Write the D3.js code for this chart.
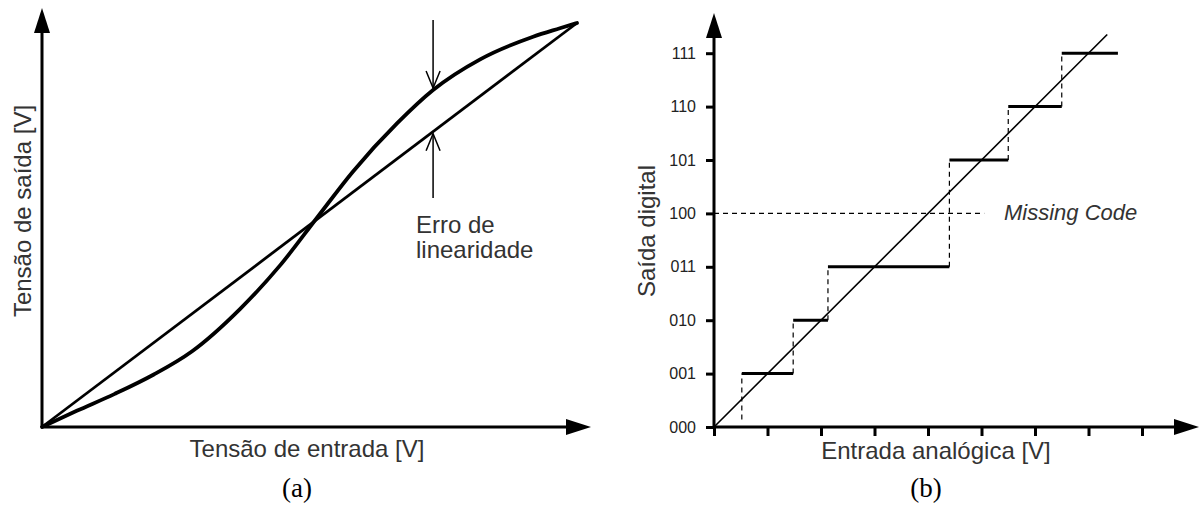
<!DOCTYPE html>
<html>
<head>
<meta charset="utf-8">
<script src="https://cdn.jsdelivr.net/npm/d3@7"></script>
<style>
    body { margin: 0; background: #fff; }
    svg text { font-family: "Liberation Sans", Arial, sans-serif; fill: #333; }
    svg text.caption { font-family: "Liberation Serif", "Times New Roman", serif; fill: #000; }
</style>
</head>
<body>
<svg id="chart" width="1202" height="506"></svg>
<script>
/*
 *  Panel (a): transfer curve vs. ideal straight line (normalised units)
 */
const curveX = [0, 0.065, 0.136, 0.209, 0.280, 0.370, 0.445, 0.514, 0.581, 0.664, 0.731, 0.819, 0.918, 0.968, 1];
const curveY = [0, 0.040, 0.082, 0.130, 0.187, 0.292, 0.400, 0.518, 0.632, 0.752, 0.834, 0.910, 0.966, 0.987, 1];
const idealX = [0, 1];
const idealY = [0, 1];
const errorX = 0.731;

/*
 *  Panel (b): 3-bit converter with a missing code
 */
const codeLabels = ["000", "001", "010", "011", "100", "101", "110", "111"];
const stepLevel = [1, 2, 3, 5, 6, 7];
const stepStart = [0.52, 1.48, 2.13, 4.4, 5.5, 6.5];
const stepEnd = [1.48, 2.13, 4.4, 5.5, 6.5, 7.55];
const stepFrom = [0.14, 1, 2, 3, 5, 6];
const xTicks = [0, 1, 2, 3, 4, 5, 6, 7, 8];
const missingLevel = 4;
const missingEnd = 5.05;
const diagonalEnd = 7.35;

const svg = d3.select('#chart');

function arrowHead(g, x, y, dir) {
    // filled triangle, tip at (x, y)
    let pts;
    if (dir === 'up') {
        pts = [[x, y], [x - 8, y + 25], [x + 8, y + 25]];
    } else {
        pts = [[x, y], [x - 25, y - 8], [x - 25, y + 8]];
    }
    g.append('path')
        .attr('d', 'M' + pts.join('L') + 'Z')
        .attr('fill', '#000');
}

function openArrow(g, x, y, dir) {
    let s = dir === 'down' ? -1 : 1;
    g.append('path')
        .attr('d', 'M' + (x - 7) + ',' + (y + s * 17) + 'L' + x + ',' + y + 'L' + (x + 7) + ',' + (y + s * 17))
        .attr('fill', 'none')
        .attr('stroke', '#000')
        .attr('stroke-width', 1.5);
}

/* ---------- panel (a) ---------- */
const ga = svg.append('g');
const xa = d3.scaleLinear().domain([0, 1]).range([42, 577]);
const ya = d3.scaleLinear().domain([0, 1]).range([427, 23]);

ga.append('line')
    .attr('x1', xa(0)).attr('y1', ya(0)).attr('x2', xa(0)).attr('y2', 25)
    .attr('stroke', '#000').attr('stroke-width', 3);
ga.append('line')
    .attr('x1', xa(0)).attr('y1', ya(0)).attr('x2', 570).attr('y2', ya(0))
    .attr('stroke', '#000').attr('stroke-width', 3);
arrowHead(ga, xa(0), 8, 'up');
arrowHead(ga, 591, ya(0), 'right');

const lineA = d3.line().x(d => xa(d[0])).y(d => ya(d[1]));
ga.append('path')
    .datum(idealX.map((v, i) => [v, idealY[i]]))
    .attr('d', lineA)
    .attr('fill', 'none').attr('stroke', '#000').attr('stroke-width', 2.8);
ga.append('path')
    .datum(curveX.map((v, i) => [v, curveY[i]]))
    .attr('d', lineA.curve(d3.curveMonotoneX))
    .attr('fill', 'none').attr('stroke', '#000').attr('stroke-width', 3.8)
    .attr('stroke-linejoin', 'round').attr('stroke-linecap', 'round');

// linearity error markers
let iErr = curveX.indexOf(errorX);
let topTip = ya(curveY[iErr]) - 2;
let botTip = ya(errorX) + 2;
ga.append('line')
    .attr('x1', xa(errorX)).attr('y1', 20).attr('x2', xa(errorX)).attr('y2', topTip)
    .attr('stroke', '#000').attr('stroke-width', 1.5);
openArrow(ga, xa(errorX), topTip, 'down');
ga.append('line')
    .attr('x1', xa(errorX)).attr('y1', 198).attr('x2', xa(errorX)).attr('y2', botTip)
    .attr('stroke', '#000').attr('stroke-width', 1.5);
openArrow(ga, xa(errorX), botTip, 'up');

ga.append('text')
    .attr('x', 416).attr('y', 233)
    .style('font-size', '24px')
    .text('Erro de');
ga.append('text')
    .attr('x', 416).attr('y', 258)
    .style('font-size', '24px')
    .text('linearidade');

ga.append('text')
    .attr('x', 307).attr('y', 457)
    .attr('text-anchor', 'middle')
    .style('font-size', '24px')
    .text('Tensão de entrada [V]');
ga.append('text')
    .attr('transform', 'translate(31,211) rotate(-90)')
    .attr('text-anchor', 'middle')
    .style('font-size', '24px')
    .text('Tensão de saída [V]');
ga.append('text')
    .attr('class', 'caption')
    .attr('x', 297).attr('y', 497)
    .attr('text-anchor', 'middle')
    .style('font-size', '27px')
    .text('(a)');

/* ---------- panel (b) ---------- */
const gb = svg.append('g');
const xb = d3.scaleLinear().domain([0, 9]).range([714, 714 + 9 * 53.5]);
const yb = d3.scaleLinear().domain([0, 7]).range([427, 427 - 7 * 53.4]);

gb.append('g')
    .attr('transform', 'translate(' + xb(0) + ',0)')
    .call(d3.axisLeft(yb).tickValues(d3.range(codeLabels.length))
        .tickFormat(i => codeLabels[i]).tickSize(8).tickPadding(10))
    .call(g => g.select('.domain').remove())
    .call(g => g.selectAll('line').attr('stroke', '#000').attr('stroke-width', 3))
    .call(g => g.selectAll('text').style('font-size', '16px')
        .style('font-family', '"Liberation Sans", Arial, sans-serif').style('fill', '#222'));

gb.append('g')
    .attr('transform', 'translate(0,' + yb(0) + ')')
    .call(d3.axisBottom(xb).tickValues(xTicks).tickFormat('').tickSize(9))
    .call(g => g.select('.domain').remove())
    .call(g => g.selectAll('line').attr('stroke', '#000').attr('stroke-width', 3));

gb.append('line')
    .attr('x1', xb(0)).attr('y1', yb(0)).attr('x2', xb(0)).attr('y2', 30)
    .attr('stroke', '#000').attr('stroke-width', 3);
gb.append('line')
    .attr('x1', xb(0)).attr('y1', yb(0)).attr('x2', 1180).attr('y2', yb(0))
    .attr('stroke', '#000').attr('stroke-width', 3);
arrowHead(gb, xb(0), 13, 'up');
arrowHead(gb, 1199, yb(0), 'right');

// ideal transfer line
gb.append('line')
    .attr('x1', xb(0)).attr('y1', yb(0))
    .attr('x2', xb(diagonalEnd)).attr('y2', yb(diagonalEnd))
    .attr('stroke', '#000').attr('stroke-width', 1.6);

// missing code guide
gb.append('line')
    .attr('x1', xb(0)).attr('y1', yb(missingLevel))
    .attr('x2', xb(missingEnd)).attr('y2', yb(missingLevel))
    .attr('stroke', '#000').attr('stroke-width', 1.2)
    .attr('stroke-dasharray', '5,4');

// risers (dashed) and steps
gb.selectAll('line.riser')
    .data(stepLevel)
    .join('line')
    .attr('class', 'riser')
    .attr('x1', (d, i) => xb(stepStart[i])).attr('x2', (d, i) => xb(stepStart[i]))
    .attr('y1', (d, i) => yb(stepFrom[i])).attr('y2', d => yb(d))
    .attr('stroke', '#000').attr('stroke-width', 1.2)
    .attr('stroke-dasharray', '5,4');

gb.selectAll('line.step')
    .data(stepLevel)
    .join('line')
    .attr('class', 'step')
    .attr('x1', (d, i) => xb(stepStart[i])).attr('x2', (d, i) => xb(stepEnd[i]))
    .attr('y1', d => yb(d)).attr('y2', d => yb(d))
    .attr('stroke', '#000').attr('stroke-width', 3);

gb.append('text')
    .attr('x', 1004).attr('y', yb(missingLevel) + 7)
    .style('font-size', '22px').style('font-style', 'italic')
    .text('Missing Code');

gb.append('text')
    .attr('x', 936).attr('y', 459)
    .attr('text-anchor', 'middle')
    .style('font-size', '24px')
    .text('Entrada analógica [V]');
gb.append('text')
    .attr('transform', 'translate(655,231) rotate(-90)')
    .attr('text-anchor', 'middle')
    .style('font-size', '24px')
    .text('Saída digital');
gb.append('text')
    .attr('class', 'caption')
    .attr('x', 926).attr('y', 497)
    .attr('text-anchor', 'middle')
    .style('font-size', '27px')
    .text('(b)');
</script>
</body>
</html>
